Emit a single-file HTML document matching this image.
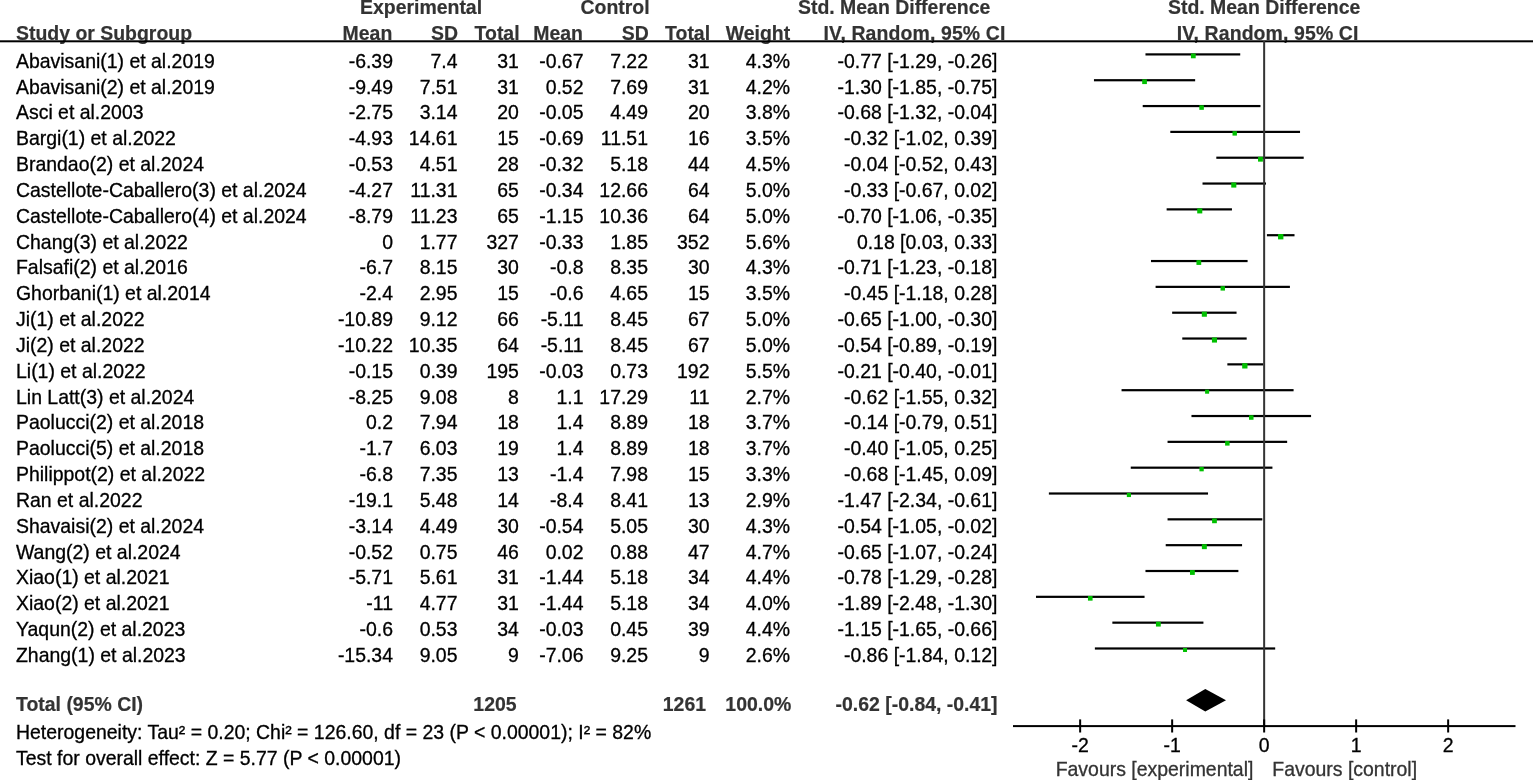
<!DOCTYPE html><html><head><meta charset="utf-8"><style>html,body{margin:0;padding:0;background:#fff;}svg{display:block}text{font-family:"Liberation Sans",Arial,Helvetica,sans-serif;font-size:19.45px;stroke:#000;stroke-width:0.3}.b{font-weight:bold;fill:#333;stroke:#333;stroke-width:0.2}.g{fill:#333;stroke:#333}</style></head><body>
<svg width="1535" height="780" viewBox="0 0 1535 780">
<rect width="1535" height="780" fill="#fff"/>
<text class="b" x="360" y="14.3">Experimental</text>
<text class="b" x="580.5" y="14.3">Control</text>
<text class="b" x="798" y="14.3">Std. Mean Difference</text>
<text class="b" x="1168" y="14.3">Std. Mean Difference</text>
<text class="b" x="16" y="39.7">Study or Subgroup</text>
<text class="b" x="392.3" y="39.7" text-anchor="end">Mean</text>
<text class="b" x="458" y="39.7" text-anchor="end">SD</text>
<text class="b" x="519.6" y="39.7" text-anchor="end">Total</text>
<text class="b" x="583" y="39.7" text-anchor="end">Mean</text>
<text class="b" x="648.7" y="39.7" text-anchor="end">SD</text>
<text class="b" x="710.1" y="39.7" text-anchor="end">Total</text>
<text class="b" x="790.2" y="39.7" text-anchor="end">Weight</text>
<text class="b" x="823.6" y="39.7" style="letter-spacing:0.12px">IV, Random, 95% CI</text>
<text class="b" x="1176.7" y="39.7" style="letter-spacing:0.12px">IV, Random, 95% CI</text>
<rect x="0" y="40.3" width="1533" height="2.0" fill="#000"/>
<text x="16" y="67.80">Abavisani(1) et al.2019</text>
<text x="393.0" y="67.80" text-anchor="end">-6.39</text>
<text x="457.5" y="67.80" text-anchor="end">7.4</text>
<text x="518.9" y="67.80" text-anchor="end">31</text>
<text x="583.5" y="67.80" text-anchor="end">-0.67</text>
<text x="648.0" y="67.80" text-anchor="end">7.22</text>
<text x="709.5" y="67.80" text-anchor="end">31</text>
<text x="790" y="67.80" text-anchor="end">4.3%</text>
<text x="997.4" y="67.80" text-anchor="end">-0.77 [-1.29, -0.26]</text>
<rect x="1145.47" y="53.30" width="94.76" height="2.2" fill="#000"/>
<rect x="1190.93" y="53.52" width="4.76" height="4.76" fill="#00c000"/>
<text x="16" y="93.63">Abavisani(2) et al.2019</text>
<text x="393.0" y="93.63" text-anchor="end">-9.49</text>
<text x="457.5" y="93.63" text-anchor="end">7.51</text>
<text x="518.9" y="93.63" text-anchor="end">31</text>
<text x="583.5" y="93.63" text-anchor="end">0.52</text>
<text x="648.0" y="93.63" text-anchor="end">7.69</text>
<text x="709.5" y="93.63" text-anchor="end">31</text>
<text x="790" y="93.63" text-anchor="end">4.2%</text>
<text x="997.4" y="93.63" text-anchor="end">-1.30 [-1.85, -0.75]</text>
<rect x="1093.95" y="79.13" width="101.20" height="2.2" fill="#000"/>
<rect x="1142.19" y="79.37" width="4.72" height="4.72" fill="#00c000"/>
<text x="16" y="119.46">Asci et al.2003</text>
<text x="393.0" y="119.46" text-anchor="end">-2.75</text>
<text x="457.5" y="119.46" text-anchor="end">3.14</text>
<text x="518.9" y="119.46" text-anchor="end">20</text>
<text x="583.5" y="119.46" text-anchor="end">-0.05</text>
<text x="648.0" y="119.46" text-anchor="end">4.49</text>
<text x="709.5" y="119.46" text-anchor="end">20</text>
<text x="790" y="119.46" text-anchor="end">3.8%</text>
<text x="997.4" y="119.46" text-anchor="end">-0.68 [-1.32, -0.04]</text>
<rect x="1142.71" y="104.96" width="117.76" height="2.2" fill="#000"/>
<rect x="1199.32" y="105.29" width="4.54" height="4.54" fill="#00c000"/>
<text x="16" y="145.29">Bargi(1) et al.2022</text>
<text x="393.0" y="145.29" text-anchor="end">-4.93</text>
<text x="457.5" y="145.29" text-anchor="end">14.61</text>
<text x="518.9" y="145.29" text-anchor="end">15</text>
<text x="583.5" y="145.29" text-anchor="end">-0.69</text>
<text x="648.0" y="145.29" text-anchor="end">11.51</text>
<text x="709.5" y="145.29" text-anchor="end">16</text>
<text x="790" y="145.29" text-anchor="end">3.5%</text>
<text x="997.4" y="145.29" text-anchor="end">-0.32 [-1.02, 0.39]</text>
<rect x="1170.31" y="130.79" width="129.72" height="2.2" fill="#000"/>
<rect x="1232.51" y="131.19" width="4.41" height="4.41" fill="#00c000"/>
<text x="16" y="171.12">Brandao(2) et al.2024</text>
<text x="393.0" y="171.12" text-anchor="end">-0.53</text>
<text x="457.5" y="171.12" text-anchor="end">4.51</text>
<text x="518.9" y="171.12" text-anchor="end">28</text>
<text x="583.5" y="171.12" text-anchor="end">-0.32</text>
<text x="648.0" y="171.12" text-anchor="end">5.18</text>
<text x="709.5" y="171.12" text-anchor="end">44</text>
<text x="790" y="171.12" text-anchor="end">4.5%</text>
<text x="997.4" y="171.12" text-anchor="end">-0.04 [-0.52, 0.43]</text>
<rect x="1216.31" y="156.62" width="87.40" height="2.2" fill="#000"/>
<rect x="1258.04" y="156.79" width="4.86" height="4.86" fill="#00c000"/>
<text x="16" y="196.95">Castellote-Caballero(3) et al.2024</text>
<text x="393.0" y="196.95" text-anchor="end">-4.27</text>
<text x="457.5" y="196.95" text-anchor="end">11.31</text>
<text x="518.9" y="196.95" text-anchor="end">65</text>
<text x="583.5" y="196.95" text-anchor="end">-0.34</text>
<text x="648.0" y="196.95" text-anchor="end">12.66</text>
<text x="709.5" y="196.95" text-anchor="end">64</text>
<text x="790" y="196.95" text-anchor="end">5.0%</text>
<text x="997.4" y="196.95" text-anchor="end">-0.33 [-0.67, 0.02]</text>
<rect x="1202.51" y="182.45" width="63.48" height="2.2" fill="#000"/>
<rect x="1231.25" y="182.51" width="5.08" height="5.08" fill="#00c000"/>
<text x="16" y="222.78">Castellote-Caballero(4) et al.2024</text>
<text x="393.0" y="222.78" text-anchor="end">-8.79</text>
<text x="457.5" y="222.78" text-anchor="end">11.23</text>
<text x="518.9" y="222.78" text-anchor="end">65</text>
<text x="583.5" y="222.78" text-anchor="end">-1.15</text>
<text x="648.0" y="222.78" text-anchor="end">10.36</text>
<text x="709.5" y="222.78" text-anchor="end">64</text>
<text x="790" y="222.78" text-anchor="end">5.0%</text>
<text x="997.4" y="222.78" text-anchor="end">-0.70 [-1.06, -0.35]</text>
<rect x="1166.63" y="208.28" width="65.32" height="2.2" fill="#000"/>
<rect x="1197.21" y="208.34" width="5.08" height="5.08" fill="#00c000"/>
<text x="16" y="248.61">Chang(3) et al.2022</text>
<text x="393.0" y="248.61" text-anchor="end">0</text>
<text x="457.5" y="248.61" text-anchor="end">1.77</text>
<text x="518.9" y="248.61" text-anchor="end">327</text>
<text x="583.5" y="248.61" text-anchor="end">-0.33</text>
<text x="648.0" y="248.61" text-anchor="end">1.85</text>
<text x="709.5" y="248.61" text-anchor="end">352</text>
<text x="790" y="248.61" text-anchor="end">5.6%</text>
<text x="997.4" y="248.61" text-anchor="end">0.18 [0.03, 0.33]</text>
<rect x="1266.91" y="234.11" width="27.60" height="2.2" fill="#000"/>
<rect x="1278.04" y="234.03" width="5.35" height="5.35" fill="#00c000"/>
<text x="16" y="274.44">Falsafi(2) et al.2016</text>
<text x="393.0" y="274.44" text-anchor="end">-6.7</text>
<text x="457.5" y="274.44" text-anchor="end">8.15</text>
<text x="518.9" y="274.44" text-anchor="end">30</text>
<text x="583.5" y="274.44" text-anchor="end">-0.8</text>
<text x="648.0" y="274.44" text-anchor="end">8.35</text>
<text x="709.5" y="274.44" text-anchor="end">30</text>
<text x="790" y="274.44" text-anchor="end">4.3%</text>
<text x="997.4" y="274.44" text-anchor="end">-0.71 [-1.23, -0.18]</text>
<rect x="1150.99" y="259.94" width="96.60" height="2.2" fill="#000"/>
<rect x="1196.45" y="260.16" width="4.76" height="4.76" fill="#00c000"/>
<text x="16" y="300.27">Ghorbani(1) et al.2014</text>
<text x="393.0" y="300.27" text-anchor="end">-2.4</text>
<text x="457.5" y="300.27" text-anchor="end">2.95</text>
<text x="518.9" y="300.27" text-anchor="end">15</text>
<text x="583.5" y="300.27" text-anchor="end">-0.6</text>
<text x="648.0" y="300.27" text-anchor="end">4.65</text>
<text x="709.5" y="300.27" text-anchor="end">15</text>
<text x="790" y="300.27" text-anchor="end">3.5%</text>
<text x="997.4" y="300.27" text-anchor="end">-0.45 [-1.18, 0.28]</text>
<rect x="1155.59" y="285.77" width="134.32" height="2.2" fill="#000"/>
<rect x="1220.55" y="286.17" width="4.41" height="4.41" fill="#00c000"/>
<text x="16" y="326.10">Ji(1) et al.2022</text>
<text x="393.0" y="326.10" text-anchor="end">-10.89</text>
<text x="457.5" y="326.10" text-anchor="end">9.12</text>
<text x="518.9" y="326.10" text-anchor="end">66</text>
<text x="583.5" y="326.10" text-anchor="end">-5.11</text>
<text x="648.0" y="326.10" text-anchor="end">8.45</text>
<text x="709.5" y="326.10" text-anchor="end">67</text>
<text x="790" y="326.10" text-anchor="end">5.0%</text>
<text x="997.4" y="326.10" text-anchor="end">-0.65 [-1.00, -0.30]</text>
<rect x="1172.15" y="311.60" width="64.40" height="2.2" fill="#000"/>
<rect x="1201.81" y="311.66" width="5.08" height="5.08" fill="#00c000"/>
<text x="16" y="351.93">Ji(2) et al.2022</text>
<text x="393.0" y="351.93" text-anchor="end">-10.22</text>
<text x="457.5" y="351.93" text-anchor="end">10.35</text>
<text x="518.9" y="351.93" text-anchor="end">64</text>
<text x="583.5" y="351.93" text-anchor="end">-5.11</text>
<text x="648.0" y="351.93" text-anchor="end">8.45</text>
<text x="709.5" y="351.93" text-anchor="end">67</text>
<text x="790" y="351.93" text-anchor="end">5.0%</text>
<text x="997.4" y="351.93" text-anchor="end">-0.54 [-0.89, -0.19]</text>
<rect x="1182.27" y="337.43" width="64.40" height="2.2" fill="#000"/>
<rect x="1211.93" y="337.49" width="5.08" height="5.08" fill="#00c000"/>
<text x="16" y="377.76">Li(1) et al.2022</text>
<text x="393.0" y="377.76" text-anchor="end">-0.15</text>
<text x="457.5" y="377.76" text-anchor="end">0.39</text>
<text x="518.9" y="377.76" text-anchor="end">195</text>
<text x="583.5" y="377.76" text-anchor="end">-0.03</text>
<text x="648.0" y="377.76" text-anchor="end">0.73</text>
<text x="709.5" y="377.76" text-anchor="end">192</text>
<text x="790" y="377.76" text-anchor="end">5.5%</text>
<text x="997.4" y="377.76" text-anchor="end">-0.21 [-0.40, -0.01]</text>
<rect x="1227.35" y="363.26" width="35.88" height="2.2" fill="#000"/>
<rect x="1242.18" y="363.21" width="5.30" height="5.30" fill="#00c000"/>
<text x="16" y="403.59">Lin Latt(3) et al.2024</text>
<text x="393.0" y="403.59" text-anchor="end">-8.25</text>
<text x="457.5" y="403.59" text-anchor="end">9.08</text>
<text x="518.9" y="403.59" text-anchor="end">8</text>
<text x="583.5" y="403.59" text-anchor="end">1.1</text>
<text x="648.0" y="403.59" text-anchor="end">17.29</text>
<text x="709.5" y="403.59" text-anchor="end">11</text>
<text x="790" y="403.59" text-anchor="end">2.7%</text>
<text x="997.4" y="403.59" text-anchor="end">-0.62 [-1.55, 0.32]</text>
<rect x="1121.55" y="389.09" width="172.04" height="2.2" fill="#000"/>
<rect x="1205.09" y="389.67" width="4.04" height="4.04" fill="#00c000"/>
<text x="16" y="429.42">Paolucci(2) et al.2018</text>
<text x="393.0" y="429.42" text-anchor="end">0.2</text>
<text x="457.5" y="429.42" text-anchor="end">7.94</text>
<text x="518.9" y="429.42" text-anchor="end">18</text>
<text x="583.5" y="429.42" text-anchor="end">1.4</text>
<text x="648.0" y="429.42" text-anchor="end">8.89</text>
<text x="709.5" y="429.42" text-anchor="end">18</text>
<text x="790" y="429.42" text-anchor="end">3.7%</text>
<text x="997.4" y="429.42" text-anchor="end">-0.14 [-0.79, 0.51]</text>
<rect x="1191.47" y="414.92" width="119.60" height="2.2" fill="#000"/>
<rect x="1249.02" y="415.27" width="4.50" height="4.50" fill="#00c000"/>
<text x="16" y="455.25">Paolucci(5) et al.2018</text>
<text x="393.0" y="455.25" text-anchor="end">-1.7</text>
<text x="457.5" y="455.25" text-anchor="end">6.03</text>
<text x="518.9" y="455.25" text-anchor="end">19</text>
<text x="583.5" y="455.25" text-anchor="end">1.4</text>
<text x="648.0" y="455.25" text-anchor="end">8.89</text>
<text x="709.5" y="455.25" text-anchor="end">18</text>
<text x="790" y="455.25" text-anchor="end">3.7%</text>
<text x="997.4" y="455.25" text-anchor="end">-0.40 [-1.05, 0.25]</text>
<rect x="1167.55" y="440.75" width="119.60" height="2.2" fill="#000"/>
<rect x="1225.10" y="441.10" width="4.50" height="4.50" fill="#00c000"/>
<text x="16" y="481.08">Philippot(2) et al.2022</text>
<text x="393.0" y="481.08" text-anchor="end">-6.8</text>
<text x="457.5" y="481.08" text-anchor="end">7.35</text>
<text x="518.9" y="481.08" text-anchor="end">13</text>
<text x="583.5" y="481.08" text-anchor="end">-1.4</text>
<text x="648.0" y="481.08" text-anchor="end">7.98</text>
<text x="709.5" y="481.08" text-anchor="end">15</text>
<text x="790" y="481.08" text-anchor="end">3.3%</text>
<text x="997.4" y="481.08" text-anchor="end">-0.68 [-1.45, 0.09]</text>
<rect x="1130.75" y="466.58" width="141.68" height="2.2" fill="#000"/>
<rect x="1199.43" y="467.02" width="4.31" height="4.31" fill="#00c000"/>
<text x="16" y="506.91">Ran et al.2022</text>
<text x="393.0" y="506.91" text-anchor="end">-19.1</text>
<text x="457.5" y="506.91" text-anchor="end">5.48</text>
<text x="518.9" y="506.91" text-anchor="end">14</text>
<text x="583.5" y="506.91" text-anchor="end">-8.4</text>
<text x="648.0" y="506.91" text-anchor="end">8.41</text>
<text x="709.5" y="506.91" text-anchor="end">13</text>
<text x="790" y="506.91" text-anchor="end">2.9%</text>
<text x="997.4" y="506.91" text-anchor="end">-1.47 [-2.34, -0.61]</text>
<rect x="1048.87" y="492.41" width="159.16" height="2.2" fill="#000"/>
<rect x="1126.84" y="492.94" width="4.13" height="4.13" fill="#00c000"/>
<text x="16" y="532.74">Shavaisi(2) et al.2024</text>
<text x="393.0" y="532.74" text-anchor="end">-3.14</text>
<text x="457.5" y="532.74" text-anchor="end">4.49</text>
<text x="518.9" y="532.74" text-anchor="end">30</text>
<text x="583.5" y="532.74" text-anchor="end">-0.54</text>
<text x="648.0" y="532.74" text-anchor="end">5.05</text>
<text x="709.5" y="532.74" text-anchor="end">30</text>
<text x="790" y="532.74" text-anchor="end">4.3%</text>
<text x="997.4" y="532.74" text-anchor="end">-0.54 [-1.05, -0.02]</text>
<rect x="1167.55" y="518.24" width="94.76" height="2.2" fill="#000"/>
<rect x="1212.09" y="518.46" width="4.76" height="4.76" fill="#00c000"/>
<text x="16" y="558.57">Wang(2) et al.2024</text>
<text x="393.0" y="558.57" text-anchor="end">-0.52</text>
<text x="457.5" y="558.57" text-anchor="end">0.75</text>
<text x="518.9" y="558.57" text-anchor="end">46</text>
<text x="583.5" y="558.57" text-anchor="end">0.02</text>
<text x="648.0" y="558.57" text-anchor="end">0.88</text>
<text x="709.5" y="558.57" text-anchor="end">47</text>
<text x="790" y="558.57" text-anchor="end">4.7%</text>
<text x="997.4" y="558.57" text-anchor="end">-0.65 [-1.07, -0.24]</text>
<rect x="1165.71" y="544.07" width="76.36" height="2.2" fill="#000"/>
<rect x="1201.88" y="544.20" width="4.95" height="4.95" fill="#00c000"/>
<text x="16" y="584.40">Xiao(1) et al.2021</text>
<text x="393.0" y="584.40" text-anchor="end">-5.71</text>
<text x="457.5" y="584.40" text-anchor="end">5.61</text>
<text x="518.9" y="584.40" text-anchor="end">31</text>
<text x="583.5" y="584.40" text-anchor="end">-1.44</text>
<text x="648.0" y="584.40" text-anchor="end">5.18</text>
<text x="709.5" y="584.40" text-anchor="end">34</text>
<text x="790" y="584.40" text-anchor="end">4.4%</text>
<text x="997.4" y="584.40" text-anchor="end">-0.78 [-1.29, -0.28]</text>
<rect x="1145.47" y="569.90" width="92.92" height="2.2" fill="#000"/>
<rect x="1189.99" y="570.09" width="4.81" height="4.81" fill="#00c000"/>
<text x="16" y="610.23">Xiao(2) et al.2021</text>
<text x="393.0" y="610.23" text-anchor="end">-11</text>
<text x="457.5" y="610.23" text-anchor="end">4.77</text>
<text x="518.9" y="610.23" text-anchor="end">31</text>
<text x="583.5" y="610.23" text-anchor="end">-1.44</text>
<text x="648.0" y="610.23" text-anchor="end">5.18</text>
<text x="709.5" y="610.23" text-anchor="end">34</text>
<text x="790" y="610.23" text-anchor="end">4.0%</text>
<text x="997.4" y="610.23" text-anchor="end">-1.89 [-2.48, -1.30]</text>
<rect x="1035.99" y="595.73" width="108.56" height="2.2" fill="#000"/>
<rect x="1087.95" y="596.01" width="4.63" height="4.63" fill="#00c000"/>
<text x="16" y="636.06">Yaqun(2) et al.2023</text>
<text x="393.0" y="636.06" text-anchor="end">-0.6</text>
<text x="457.5" y="636.06" text-anchor="end">0.53</text>
<text x="518.9" y="636.06" text-anchor="end">34</text>
<text x="583.5" y="636.06" text-anchor="end">-0.03</text>
<text x="648.0" y="636.06" text-anchor="end">0.45</text>
<text x="709.5" y="636.06" text-anchor="end">39</text>
<text x="790" y="636.06" text-anchor="end">4.4%</text>
<text x="997.4" y="636.06" text-anchor="end">-1.15 [-1.65, -0.66]</text>
<rect x="1112.35" y="621.56" width="91.08" height="2.2" fill="#000"/>
<rect x="1155.95" y="621.75" width="4.81" height="4.81" fill="#00c000"/>
<text x="16" y="661.89">Zhang(1) et al.2023</text>
<text x="393.0" y="661.89" text-anchor="end">-15.34</text>
<text x="457.5" y="661.89" text-anchor="end">9.05</text>
<text x="518.9" y="661.89" text-anchor="end">9</text>
<text x="583.5" y="661.89" text-anchor="end">-7.06</text>
<text x="648.0" y="661.89" text-anchor="end">9.25</text>
<text x="709.5" y="661.89" text-anchor="end">9</text>
<text x="790" y="661.89" text-anchor="end">2.6%</text>
<text x="997.4" y="661.89" text-anchor="end">-0.86 [-1.84, 0.12]</text>
<rect x="1094.87" y="647.39" width="180.32" height="2.2" fill="#000"/>
<rect x="1183.03" y="647.99" width="4.00" height="4.00" fill="#00c000"/>
<text class="b" x="16" y="711.2">Total (95% CI)</text>
<text class="b" x="516.6" y="711.2" text-anchor="end">1205</text>
<text class="b" x="706.05" y="711.2" text-anchor="end">1261</text>
<text class="b" x="791.3" y="711.2" text-anchor="end">100.0%</text>
<text class="b" x="997.6" y="711.2" text-anchor="end">-0.62 [-0.84, -0.41]</text>
<text x="16" y="739">Heterogeneity: Tau² = 0.20; Chi² = 126.60, df = 23 (P &lt; 0.00001); I² = 82%</text>
<text x="16" y="764.8">Test for overall effect: Z = 5.77 (P &lt; 0.00001)</text>
<rect x="1263.15" y="41" width="2" height="685.1" fill="#333"/>
<rect x="1013" y="725.10" width="502.5" height="2.0" fill="#000"/>
<rect x="1079.15" y="719.4" width="2" height="13.100000000000023" fill="#000"/>
<text x="1080.15" y="752.0" text-anchor="middle">-2</text>
<rect x="1171.15" y="719.4" width="2" height="13.100000000000023" fill="#000"/>
<text x="1172.15" y="752.0" text-anchor="middle">-1</text>
<rect x="1263.15" y="719.4" width="2" height="13.100000000000023" fill="#000"/>
<text x="1264.15" y="752.0" text-anchor="middle">0</text>
<rect x="1355.15" y="719.4" width="2" height="13.100000000000023" fill="#000"/>
<text x="1356.15" y="752.0" text-anchor="middle">1</text>
<rect x="1447.15" y="719.4" width="2" height="13.100000000000023" fill="#000"/>
<text x="1448.15" y="752.0" text-anchor="middle">2</text>
<polygon points="1186.1,700.3 1205.3,688.9 1226.0,700.3 1205.3,711.4" fill="#000"/>
<text class="g" x="1055.7" y="775.7">Favours [experimental]</text>
<text class="g" x="1272.3" y="775.7">Favours [control]</text>
</svg></body></html>
